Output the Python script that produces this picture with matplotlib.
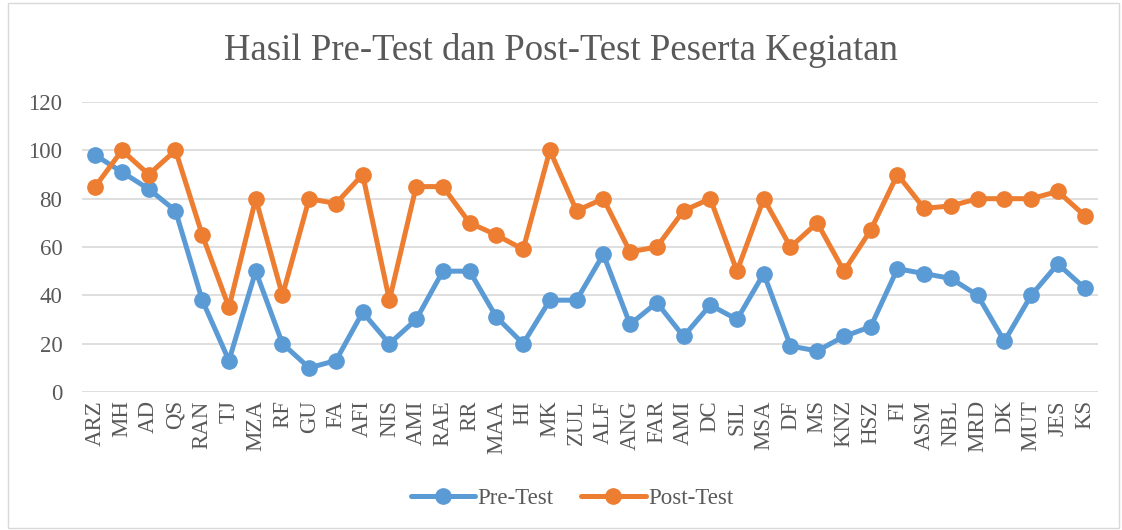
import matplotlib
matplotlib.use("Agg")
import matplotlib.pyplot as plt
import numpy as np
from matplotlib.patches import Rectangle

CATEGORIES = ["ARZ", "MH", "AD", "QS", "RAN", "TJ", "MZA", "RF", "GU", "FA", "AFI", "NIS", "AMI",
              "RAE", "RR", "MAA", "HI", "MK", "ZUL", "ALF", "ANG", "FAR", "AMI", "DC", "SIL", "MSA",
              "DF", "MS", "KNZ", "HSZ", "FI", "ASM", "NBL", "MRD", "DK", "MUT", "JES", "KS"]
PRE_TEST = [98, 91, 84, 75, 38, 13, 50, 20, 10, 13, 33, 20, 30,
            50, 50, 31, 20, 38, 38, 57, 28, 37, 23, 36, 30, 49,
            19, 17, 23, 27, 51, 49, 47, 40, 21, 40, 53, 43]
POST_TEST = [85, 100, 90, 100, 65, 35, 80, 40, 80, 78, 90, 38, 85,
             85, 70, 65, 59, 100, 75, 80, 58, 60, 75, 80, 50, 80,
             60, 70, 50, 67, 90, 76, 77, 80, 80, 80, 83, 73]
Y_TICKS = [0, 20, 40, 60, 80, 100, 120]

BLUE = "#5B9BD5"
ORANGE = "#ED7D31"
TEXT = "#595959"
GRID = "#D9D9D9"

plt.rcParams["font.family"] = ["Liberation Serif", "DejaVu Serif"]

fig = plt.figure(figsize=(11.22, 5.30), dpi=100)
fig.patch.set_facecolor("white")
fig.patches.append(Rectangle((0.007, 0.004), 0.99, 0.99, transform=fig.transFigure,
                             fill=False, edgecolor=GRID, linewidth=1.0))

ax = fig.add_axes([0.073, 0.2604, 0.9056, 0.5471])
x = np.arange(len(CATEGORIES))
ax.plot(x, PRE_TEST, color=BLUE, linewidth=3.6, marker="o", markersize=11, label="Pre-Test",
        solid_capstyle="round", solid_joinstyle="round", zorder=3)
ax.plot(x, POST_TEST, color=ORANGE, linewidth=3.6, marker="o", markersize=11, label="Post-Test",
        solid_capstyle="round", solid_joinstyle="round", zorder=3)

ax.set_xlim(-0.5, len(CATEGORIES) - 0.5)
ax.set_ylim(0, 120)
ax.set_yticks(Y_TICKS)
ax.set_xticks(x)
ax.set_xticklabels(CATEGORIES, rotation=90, fontsize=16.5, color=TEXT)
ax.tick_params(axis="y", labelsize=16.5, labelcolor=TEXT, length=0, pad=14)
ax.tick_params(axis="x", length=0, pad=6)
ax.yaxis.grid(True, color=GRID, linewidth=1.2)
ax.set_axisbelow(True)
for spine in ax.spines.values():
    spine.set_visible(False)

fig.text(0.5, 0.905, "Hasil Pre-Test dan Post-Test Peserta Kegiatan", ha="center", va="center",
         fontsize=26.5, color=TEXT)

fig.legend(loc="center", bbox_to_anchor=(0.51, 0.06), ncol=2, frameon=False, fontsize=16.5,
           labelcolor=TEXT, handlelength=2.8, handletextpad=0.1, columnspacing=1.2)

fig.savefig("out.png", dpi=100, facecolor="white")
